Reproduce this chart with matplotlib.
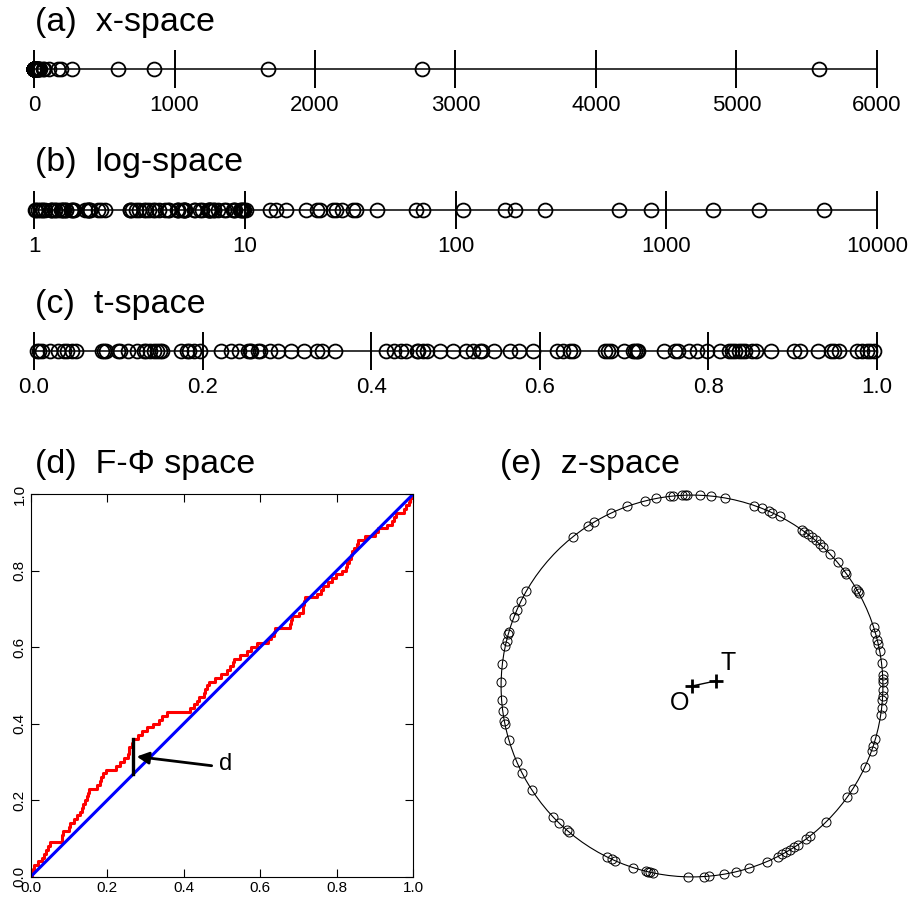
import numpy as np
import matplotlib
matplotlib.use('Agg')
import matplotlib.pyplot as plt
from matplotlib.patches import Circle
from matplotlib.ticker import NullLocator

plt.rcParams['font.family'] = ['Liberation Sans', 'DejaVu Sans']

# mantissas t = frac(log10 x) of the 100 observations, grouped by decade of x
t_dec0 = [0.003, 0.009, 0.019, 0.029, 0.039, 0.045, 0.050,
          0.081, 0.083, 0.085, 0.100, 0.102, 0.112, 0.130, 0.133,
          0.138, 0.142, 0.150, 0.152, 0.174, 0.181, 0.184, 0.190,
          0.243, 0.254, 0.256, 0.258, 0.266, 0.268,
          0.305, 0.320, 0.336,
          0.454, 0.456, 0.466, 0.482, 0.497, 0.521, 0.532, 0.546, 0.565, 0.575, 0.592,
          0.620, 0.636, 0.639, 0.677, 0.681, 0.684, 0.700, 0.711, 0.713, 0.715, 0.717,
          0.760, 0.764, 0.787, 0.798, 0.824, 0.828, 0.832, 0.836, 0.840, 0.852, 0.856,
          0.874, 0.901, 0.909, 0.945, 0.949, 0.955, 0.976, 0.982, 0.988, 0.992, 0.997]
t_dec1 = [0.006, 0.122, 0.146, 0.197, 0.290, 0.342, 0.357, 0.417, 0.435,
          0.462, 0.512, 0.529, 0.627, 0.814, 0.844]
t_dec2 = [0.035, 0.234, 0.280, 0.427, 0.777, 0.930]
t_dec3 = [0.222, 0.441, 0.747]

ticks_a = [0, 1000, 2000, 3000, 4000, 5000, 6000]
labels_a = ['0', '1000', '2000', '3000', '4000', '5000', '6000']
ticks_b = [1, 10, 100, 1000, 10000]
labels_b = ['1', '10', '100', '1000', '10000']
ticks_c = [0.0, 0.2, 0.4, 0.6, 0.8, 1.0]
labels_c = ['0.0', '0.2', '0.4', '0.6', '0.8', '1.0']
ticks_d = [0.0, 0.2, 0.4, 0.6, 0.8, 1.0]

groups = [t_dec0, t_dec1, t_dec2, t_dec3]
x = np.concatenate([10.0 ** (k + np.array(g)) for k, g in enumerate(groups)])
t = np.sort(np.concatenate([np.array(g) for g in groups]))
n = len(t)

fig = plt.figure(figsize=(9.10, 9.02), dpi=100)
W, H = 910.0, 902.0
L = 34 / W
WID = 843 / W


def strip(y_px, vals, ticks, labels, log=False):
    yc = 1 - y_px / H
    ax = fig.add_axes([L, yc - 0.03, WID, 0.06])
    for s in ['top', 'right', 'left']:
        ax.spines[s].set_visible(False)
    ax.spines['bottom'].set_position(('data', 0))
    ax.spines['bottom'].set_linewidth(1.1)
    ax.patch.set_visible(False)
    ax.set_ylim(-1, 1)
    ax.set_yticks([])
    if log:
        ax.set_xscale('log')
    ax.set_xlim(ticks[0], ticks[-1])
    ax.set_xticks(ticks)
    ax.set_xticklabels(labels)
    ax.xaxis.set_minor_locator(NullLocator())
    ax.tick_params(axis='x', direction='inout', length=27, width=1.4,
                   labelsize=16, pad=5)
    ax.plot(vals, np.zeros(len(vals)), 'o', mfc='none', mec='black',
            ms=10, mew=1.3, clip_on=False, zorder=3)
    return ax


strip(69, x, ticks_a, labels_a)
strip(210, x, ticks_b, labels_b, log=True)
strip(351, t, ticks_c, labels_c)

title_fs = 24.5
fig.text(35 / W, 1 - 23 / H, '(a)  x-space', fontsize=title_fs, va='center')
fig.text(35 / W, 1 - 163 / H, '(b)  log-space', fontsize=title_fs, va='center')
fig.text(35 / W, 1 - 304 / H, '(c)  t-space', fontsize=title_fs, va='center')
fig.text(35 / W, 1 - 465 / H, '(d)  F-\u03a6 space', fontsize=title_fs, va='center')
fig.text(500 / W, 1 - 465 / H, '(e)  z-space', fontsize=title_fs, va='center')

# (d) empirical distribution of t against the uniform
ecdf = np.arange(1, n + 1) / n
axd = fig.add_axes([30.7 / W, 1 - 876.7 / H, 382.6 / W, 382.7 / H])
axd.step(np.r_[0, t, 1], np.r_[0, ecdf, 1], where='post', color='red', lw=2.2)
axd.plot([0, 1], [0, 1], color='blue', lw=2.2)
i = np.argmax(ecdf - t)
td, fd = t[i], ecdf[i]
axd.plot([td, td], [td, fd], color='black', lw=2.4)
mid = 0.5 * (td + fd)
axd.annotate('', xy=(td + 0.009, mid), xytext=(td + 0.205, mid - 0.024),
             arrowprops=dict(arrowstyle='-|>', color='black', lw=2,
                             mutation_scale=18, shrinkA=0, shrinkB=0))
axd.text(td + 0.225, mid - 0.02, 'd', fontsize=17, va='center', ha='left')
axd.set_xlim(0, 1)
axd.set_ylim(0, 1)
axd.set_xticks(ticks_d)
axd.set_yticks(ticks_d)
axd.set_xticklabels(labels_c)
axd.set_yticklabels(labels_c, rotation=90, va='center')
axd.tick_params(direction='in', length=6, width=0.8, labelsize=11, pad=3,
                top=True, right=True)
for s in axd.spines.values():
    s.set_linewidth(0.8)

# (e) unit circle in the complex plane
axe = fig.add_axes([482 / W, 1 - 896 / H, 420 / W, 420 / H])
axe.set_xlim(-1.1, 1.1)
axe.set_ylim(-1.1, 1.1)
axe.axis('off')
axe.add_patch(Circle((0, 0), 1, fill=False, lw=0.8, color='black'))
z = np.exp(2j * np.pi * t)
axe.plot(z.real, z.imag, 'o', mfc='none', mec='black', ms=6.5, mew=0.7)
zt = z.mean()
axe.plot([0, zt.real], [0, zt.imag], color='black', lw=1)
axe.plot([0, zt.real], [0, zt.imag], '+', color='black', ms=10, mew=2)
axe.annotate('O', (0, 0), xytext=(-9, -12), textcoords='offset points',
             fontsize=18, ha='center', va='center')
axe.annotate('T', (zt.real, zt.imag), xytext=(9, 13), textcoords='offset points',
             fontsize=18, ha='center', va='center')

fig.savefig('out.png', dpi=100)
